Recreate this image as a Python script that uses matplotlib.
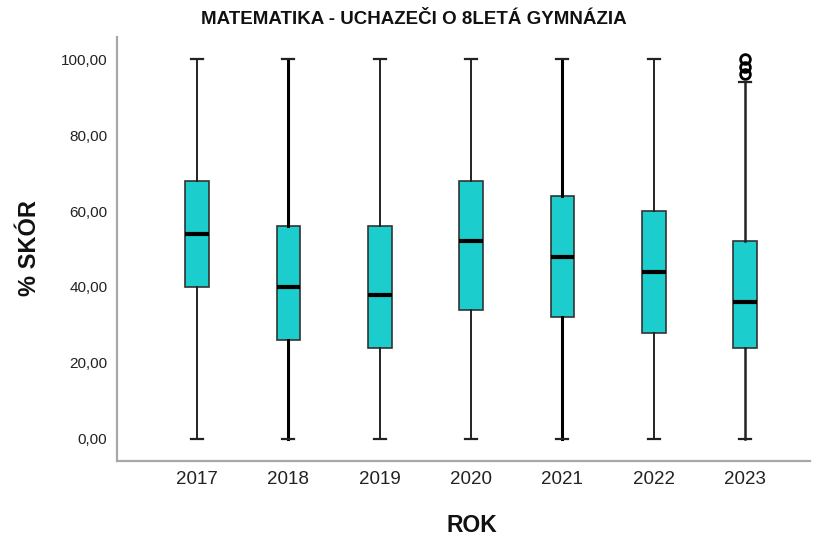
import matplotlib
matplotlib.use("Agg")
import matplotlib.pyplot as plt
import numpy as np

plt.rcParams['font.family'] = ['Liberation Sans', 'DejaVu Sans']

years = ['2017', '2018', '2019', '2020', '2021', '2022', '2023']
q1 = [40, 26, 24, 34, 32, 28, 24]
median = [54, 40, 38, 52, 48, 44, 36]
q3 = [68, 56, 56, 68, 64, 60, 52]
whisker_low = [0, 0, 0, 0, 0, 0, 0]
whisker_high = [100, 100, 100, 100, 100, 100, 94]
outliers = [[], [], [], [], [], [], [96, 98, 100]]

# denser groups draw with heavier whiskers
whisker_lw = [1.4, 2.2, 1.4, 1.4, 2.2, 1.4, 1.8]

stats = []
for i, y in enumerate(years):
    stats.append(dict(label=y, q1=q1[i], med=median[i], q3=q3[i],
                      whislo=whisker_low[i], whishi=whisker_high[i],
                      fliers=outliers[i]))

fig = plt.figure(figsize=(8.17, 5.37), dpi=100)
ax = fig.add_axes([117 / 817, 1 - 461 / 537, (810 - 117) / 817, (461 - 37) / 537])

pos = np.arange(1, len(years) + 1)
art = ax.bxp(stats, positions=pos, widths=0.26, patch_artist=True,
             boxprops=dict(facecolor='#1ccdcd', edgecolor='#333333', linewidth=1.2),
             medianprops=dict(color='black', linewidth=3),
             whiskerprops=dict(color='#222222', linewidth=1.4),
             capprops=dict(color='#222222', linewidth=1.6),
             capwidths=0.13,
             flierprops=dict(marker='o', markerfacecolor='none', markeredgecolor='black',
                             markeredgewidth=2, markersize=7))

for i, lw in enumerate(whisker_lw):
    for w in art['whiskers'][2 * i:2 * i + 2]:
        w.set_linewidth(lw)
        w.set_color('black' if lw > 2 else '#222222')

ax.set_xlim(0.124, 7.71)
ax.set_ylim(-5.8, 105.8)
ax.set_yticks([0, 20, 40, 60, 80, 100])
ax.set_yticklabels(['0,00', '20,00', '40,00', '60,00', '80,00', '100,00'])
ax.set_xticks(pos)
ax.set_xticklabels(years)
ax.tick_params(axis='both', length=0, colors='#222222')
ax.tick_params(axis='x', pad=7, labelsize=13.5)
ax.tick_params(axis='y', pad=7, labelsize=11)

for s in ['top', 'right']:
    ax.spines[s].set_visible(False)
for s in ['left', 'bottom']:
    ax.spines[s].set_color('#a8a8a8')
    ax.spines[s].set_linewidth(1.6)

fig.text(414 / 817, 1 - 19 / 537, 'MATEMATIKA - UCHAZEČI O 8LETÁ GYMNÁZIA',
         ha='center', va='center', fontsize=13.5, fontweight='bold', color='#111111')
fig.text(30 / 817, 1 - 248 / 537, '% SKÓR', rotation=90, ha='center', va='center',
         fontsize=17, fontweight='bold', color='#111111')
fig.text(472 / 817, 1 - 525 / 537, 'ROK', ha='center', va='center',
         fontsize=16.5, fontweight='bold', color='#111111')

fig.savefig('out.png', dpi=100)
